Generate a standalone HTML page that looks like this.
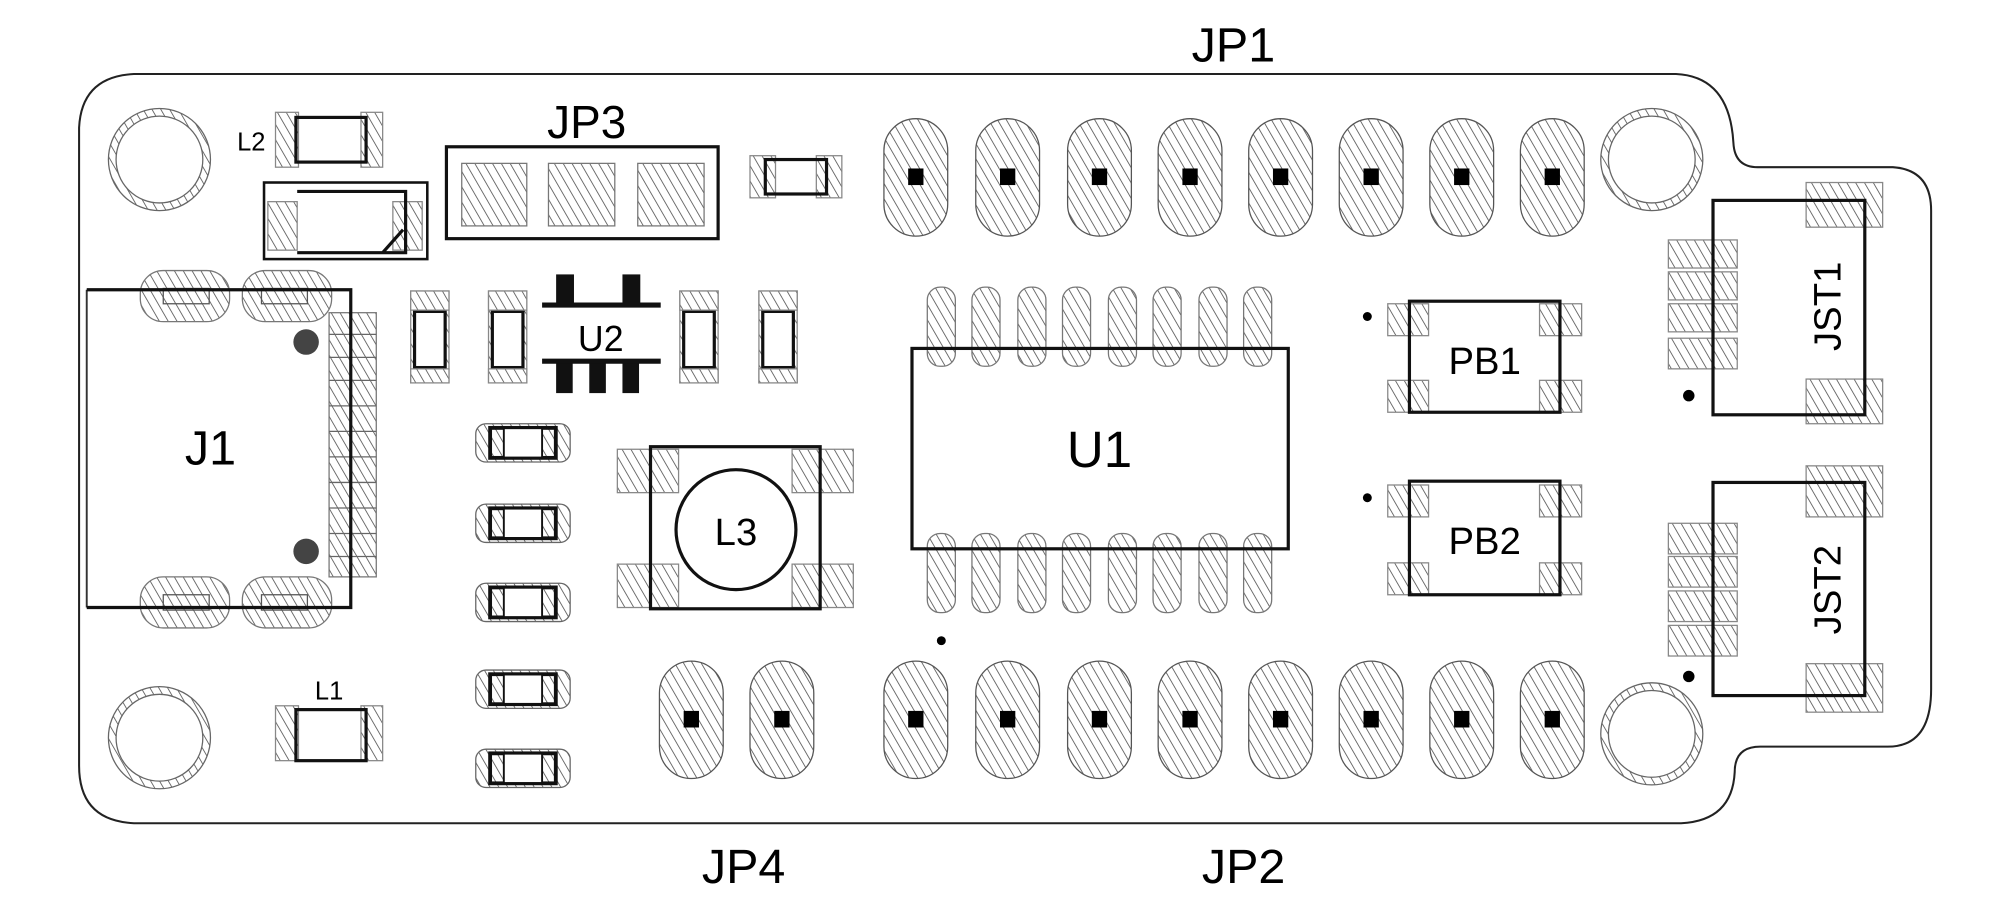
<!DOCTYPE html>
<html><head><meta charset="utf-8"><style>
html,body{margin:0;padding:0;background:#fff;width:2000px;height:910px;overflow:hidden}
svg{display:block}
text{font-family:"Liberation Sans",sans-serif;fill:#000}
</style></head><body>
<svg width="2000" height="910" viewBox="0 0 1568 713" preserveAspectRatio="none" xmlns="http://www.w3.org/2000/svg">
<defs>
<pattern id="h" patternUnits="userSpaceOnUse" width="6" height="6" patternTransform="rotate(-30)">
<rect width="6" height="6" fill="#fff"/><line x1="0" y1="0" x2="0" y2="6" stroke="#555" stroke-width="1.3"/>
</pattern>
</defs>
<path d="M105,58 H1314 Q1356,60 1359,112 Q1360,131 1378,131 H1484 Q1514,133 1514,165 V540 Q1514,585 1480,585 H1380 Q1360,585 1360,605 Q1358,643 1318,645 H105 Q62,643 62,600 V100 Q64,60 105,58 Z" fill="#fff" stroke="#222" stroke-width="1.6"/>
<g fill="none" stroke="#666" stroke-width="1">
<g><circle cx="125" cy="125" r="40" fill="url(#h)"/><circle cx="125" cy="125" r="34" fill="#fff"/></g>
<g><circle cx="125" cy="578" r="40" fill="url(#h)"/><circle cx="125" cy="578" r="34" fill="#fff"/></g>
<g><circle cx="1295" cy="125" r="40" fill="url(#h)"/><circle cx="1295" cy="125" r="34" fill="#fff"/></g>
<g><circle cx="1295" cy="575" r="40" fill="url(#h)"/><circle cx="1295" cy="575" r="34" fill="#fff"/></g>
</g>
<g stroke="#555" stroke-width="1" fill="url(#h)">
<rect x="693" y="93" width="50" height="92" rx="25"/><rect x="765" y="93" width="50" height="92" rx="25"/><rect x="837" y="93" width="50" height="92" rx="25"/><rect x="908" y="93" width="50" height="92" rx="25"/><rect x="979" y="93" width="50" height="92" rx="25"/><rect x="1050" y="93" width="50" height="92" rx="25"/><rect x="1121" y="93" width="50" height="92" rx="25"/><rect x="1192" y="93" width="50" height="92" rx="25"/>
<rect x="693" y="518" width="50" height="92" rx="25"/><rect x="765" y="518" width="50" height="92" rx="25"/><rect x="837" y="518" width="50" height="92" rx="25"/><rect x="908" y="518" width="50" height="92" rx="25"/><rect x="979" y="518" width="50" height="92" rx="25"/><rect x="1050" y="518" width="50" height="92" rx="25"/><rect x="1121" y="518" width="50" height="92" rx="25"/><rect x="1192" y="518" width="50" height="92" rx="25"/>
<rect x="517" y="518" width="50" height="92" rx="25"/><rect x="588" y="518" width="50" height="92" rx="25"/>
</g>
<g fill="#000">
<rect x="712" y="132" width="12" height="13"/><rect x="784" y="132" width="12" height="13"/><rect x="856" y="132" width="12" height="13"/><rect x="927" y="132" width="12" height="13"/><rect x="998" y="132" width="12" height="13"/><rect x="1069" y="132" width="12" height="13"/><rect x="1140" y="132" width="12" height="13"/><rect x="1211" y="132" width="12" height="13"/>
<rect x="712" y="557" width="12" height="13"/><rect x="784" y="557" width="12" height="13"/><rect x="856" y="557" width="12" height="13"/><rect x="927" y="557" width="12" height="13"/><rect x="998" y="557" width="12" height="13"/><rect x="1069" y="557" width="12" height="13"/><rect x="1140" y="557" width="12" height="13"/><rect x="1211" y="557" width="12" height="13"/>
<rect x="536" y="557" width="12" height="13"/><rect x="607" y="557" width="12" height="13"/>
<circle cx="738" cy="502" r="3.5"/><circle cx="1072" cy="248" r="3.5"/><circle cx="1072" cy="390" r="3.5"/><circle cx="1324" cy="310" r="4.5"/><circle cx="1324" cy="530" r="4.5"/>
</g>
<text x="967" y="48" font-size="38" text-anchor="middle">JP1</text>
<text x="460" y="108" font-size="36" text-anchor="middle">JP3</text>
<text x="975" y="692" font-size="38" text-anchor="middle">JP2</text>
<text x="583" y="692" font-size="38" text-anchor="middle">JP4</text>
<rect x="350" y="115" width="213" height="72" fill="none" stroke="#111" stroke-width="2.5"/>
<g fill="url(#h)" stroke="#777"><rect x="362" y="128" width="51" height="49"/><rect x="430" y="128" width="52" height="49"/><rect x="500" y="128" width="52" height="49"/></g>
<g fill="url(#h)" stroke="#888"><rect x="588" y="122" width="20" height="33"/><rect x="640" y="122" width="20" height="33"/></g>
<rect x="600" y="125" width="48" height="27" fill="none" stroke="#111" stroke-width="2.5"/>
<text x="197" y="118" font-size="20" text-anchor="middle">L2</text>
<g fill="url(#h)" stroke="#888"><rect x="216" y="88" width="18" height="43"/><rect x="283" y="88" width="17" height="43"/></g>
<rect x="232" y="92" width="55" height="35" fill="none" stroke="#111" stroke-width="2.5"/>
<rect x="207" y="143" width="128" height="60" fill="none" stroke="#111" stroke-width="2"/>
<g fill="url(#h)" stroke="#888"><rect x="210" y="158" width="23" height="38"/><rect x="308" y="158" width="23" height="38"/></g>
<path d="M233,150 H318 V198 H300 L316,180 M300,198 H233 Z" fill="none" stroke="#111" stroke-width="2.5"/>
<g fill="url(#h)" stroke="#777">
<rect x="110" y="212" width="70" height="40" rx="18"/><rect x="190" y="212" width="70" height="40" rx="18"/>
<rect x="110" y="452" width="70" height="40" rx="18"/><rect x="190" y="452" width="70" height="40" rx="18"/>
<rect x="258" y="245" width="37" height="207"/>
</g>
<g stroke="#666" stroke-width="1"><line x1="258" y1="262" x2="295" y2="262"/><line x1="258" y1="280" x2="295" y2="280"/><line x1="258" y1="298" x2="295" y2="298"/><line x1="258" y1="318" x2="295" y2="318"/><line x1="258" y1="338" x2="295" y2="338"/><line x1="258" y1="358" x2="295" y2="358"/><line x1="258" y1="378" x2="295" y2="378"/><line x1="258" y1="398" x2="295" y2="398"/><line x1="258" y1="418" x2="295" y2="418"/><line x1="258" y1="436" x2="295" y2="436"/></g>
<rect x="128" y="226" width="36" height="12" fill="none" stroke="#555"/><rect x="205" y="226" width="36" height="12" fill="none" stroke="#555"/>
<rect x="128" y="466" width="36" height="12" fill="none" stroke="#555"/><rect x="205" y="466" width="36" height="12" fill="none" stroke="#555"/>
<path d="M68,227 V476" stroke="#333" stroke-width="1.5"/>
<path d="M68,227 H275 V476 H68" fill="none" stroke="#111" stroke-width="2.5"/>
<circle cx="240" cy="268" r="10" fill="#444"/><circle cx="240" cy="432" r="10" fill="#444"/>
<text x="165" y="364" font-size="38" text-anchor="middle">J1</text>
<g fill="url(#h)" stroke="#888"><rect x="322" y="228" width="30" height="72"/><rect x="383" y="228" width="30" height="72"/><rect x="533" y="228" width="30" height="72"/><rect x="595" y="228" width="30" height="72"/></g>
<g fill="#fff" stroke="#111" stroke-width="2.5"><rect x="325" y="244" width="24" height="44"/><rect x="386" y="244" width="24" height="44"/><rect x="536" y="244" width="24" height="44"/><rect x="598" y="244" width="24" height="44"/></g>
<g fill="url(#h)" stroke="#888"><rect x="322" y="228" width="30" height="15"/><rect x="383" y="228" width="30" height="15"/><rect x="533" y="228" width="30" height="15"/><rect x="595" y="228" width="30" height="15"/><rect x="322" y="289" width="30" height="11"/><rect x="383" y="289" width="30" height="11"/><rect x="533" y="289" width="30" height="11"/><rect x="595" y="289" width="30" height="11"/></g>
<g fill="#111"><rect x="436" y="215" width="14" height="24"/><rect x="488" y="215" width="14" height="24"/><rect x="436" y="283" width="13" height="25"/><rect x="462" y="283" width="13" height="25"/><rect x="488" y="283" width="13" height="25"/></g>
<g stroke="#111" stroke-width="4"><line x1="425" y1="239" x2="518" y2="239"/><line x1="425" y1="283" x2="518" y2="283"/></g>
<text x="471" y="275" font-size="28" text-anchor="middle">U2</text>
<g>
<rect x="373" y="332" width="74" height="30" rx="8" fill="url(#h)" stroke="#666"/><rect x="386" y="335" width="48" height="24" fill="#fff"/><rect x="384" y="335" width="52" height="24" fill="none" stroke="#111" stroke-width="2.5"/>
<rect x="373" y="395" width="74" height="30" rx="8" fill="url(#h)" stroke="#666"/><rect x="386" y="398" width="48" height="24" fill="#fff"/><rect x="384" y="398" width="52" height="24" fill="none" stroke="#111" stroke-width="2.5"/>
<rect x="373" y="457" width="74" height="30" rx="8" fill="url(#h)" stroke="#666"/><rect x="386" y="460" width="48" height="24" fill="#fff"/><rect x="384" y="460" width="52" height="24" fill="none" stroke="#111" stroke-width="2.5"/>
<rect x="373" y="525" width="74" height="30" rx="8" fill="url(#h)" stroke="#666"/><rect x="386" y="528" width="48" height="24" fill="#fff"/><rect x="384" y="528" width="52" height="24" fill="none" stroke="#111" stroke-width="2.5"/>
<rect x="373" y="587" width="74" height="30" rx="8" fill="url(#h)" stroke="#666"/><rect x="386" y="590" width="48" height="24" fill="#fff"/><rect x="384" y="590" width="52" height="24" fill="none" stroke="#111" stroke-width="2.5"/>
</g>
<g fill="url(#h)" stroke="#111" stroke-width="1.5">
<rect x="385" y="336" width="10" height="22"/><rect x="425" y="336" width="10" height="22"/>
<rect x="385" y="399" width="10" height="22"/><rect x="425" y="399" width="10" height="22"/>
<rect x="385" y="461" width="10" height="22"/><rect x="425" y="461" width="10" height="22"/>
<rect x="385" y="529" width="10" height="22"/><rect x="425" y="529" width="10" height="22"/>
<rect x="385" y="591" width="10" height="22"/><rect x="425" y="591" width="10" height="22"/>
</g>
<g fill="url(#h)" stroke="#888"><rect x="484" y="352" width="48" height="34"/><rect x="621" y="352" width="48" height="34"/><rect x="484" y="442" width="48" height="34"/><rect x="621" y="442" width="48" height="34"/></g>
<rect x="510" y="350" width="133" height="127" fill="none" stroke="#111" stroke-width="2.5"/>
<circle cx="577" cy="415" r="47" fill="#fff" stroke="#111" stroke-width="2.5"/>
<text x="577" y="427" font-size="30" text-anchor="middle">L3</text>
<g fill="url(#h)" stroke="#777">
<rect x="727" y="225" width="22" height="62" rx="10"/><rect x="762" y="225" width="22" height="62" rx="10"/><rect x="798" y="225" width="22" height="62" rx="10"/><rect x="833" y="225" width="22" height="62" rx="10"/><rect x="869" y="225" width="22" height="62" rx="10"/><rect x="904" y="225" width="22" height="62" rx="10"/><rect x="940" y="225" width="22" height="62" rx="10"/><rect x="975" y="225" width="22" height="62" rx="10"/>
<rect x="727" y="418" width="22" height="62" rx="10"/><rect x="762" y="418" width="22" height="62" rx="10"/><rect x="798" y="418" width="22" height="62" rx="10"/><rect x="833" y="418" width="22" height="62" rx="10"/><rect x="869" y="418" width="22" height="62" rx="10"/><rect x="904" y="418" width="22" height="62" rx="10"/><rect x="940" y="418" width="22" height="62" rx="10"/><rect x="975" y="418" width="22" height="62" rx="10"/>
</g>
<rect x="715" y="273" width="295" height="157" fill="none" stroke="#111" stroke-width="2.5"/>
<text x="862" y="366" font-size="40" text-anchor="middle">U1</text>
<g fill="url(#h)" stroke="#888"><rect x="1088" y="238" width="32" height="25"/><rect x="1207" y="238" width="33" height="25"/><rect x="1088" y="298" width="32" height="25"/><rect x="1207" y="298" width="33" height="25"/>
<rect x="1088" y="380" width="32" height="25"/><rect x="1207" y="380" width="33" height="25"/><rect x="1088" y="441" width="32" height="25"/><rect x="1207" y="441" width="33" height="25"/></g>
<rect x="1105" y="236" width="118" height="87" fill="none" stroke="#111" stroke-width="2.5"/>
<rect x="1105" y="377" width="118" height="89" fill="none" stroke="#111" stroke-width="2.5"/>
<text x="1164" y="293" font-size="30" text-anchor="middle">PB1</text>
<text x="1164" y="434" font-size="30" text-anchor="middle">PB2</text>
<g fill="url(#h)" stroke="#888">
<rect x="1416" y="143" width="60" height="35"/><rect x="1416" y="297" width="60" height="35"/>
<rect x="1308" y="188" width="54" height="22"/><rect x="1308" y="213" width="54" height="22"/><rect x="1308" y="238" width="54" height="22"/><rect x="1308" y="265" width="54" height="24"/>
<rect x="1416" y="365" width="60" height="40"/><rect x="1416" y="520" width="60" height="38"/>
<rect x="1308" y="410" width="54" height="24"/><rect x="1308" y="436" width="54" height="24"/><rect x="1308" y="463" width="54" height="24"/><rect x="1308" y="490" width="54" height="24"/>
</g>
<rect x="1343" y="157" width="119" height="168" fill="none" stroke="#111" stroke-width="2.5"/>
<rect x="1343" y="378" width="119" height="167" fill="none" stroke="#111" stroke-width="2.5"/>
<text transform="translate(1443,240) rotate(-90)" font-size="30" text-anchor="middle">JST1</text>
<text transform="translate(1443,462) rotate(-90)" font-size="30" text-anchor="middle">JST2</text>
<text x="258" y="548" font-size="20" text-anchor="middle">L1</text>
<g fill="url(#h)" stroke="#888"><rect x="216" y="553" width="18" height="43"/><rect x="283" y="553" width="17" height="43"/></g>
<rect x="232" y="556" width="55" height="40" fill="none" stroke="#111" stroke-width="2.5"/>
</svg>
</body></html>
